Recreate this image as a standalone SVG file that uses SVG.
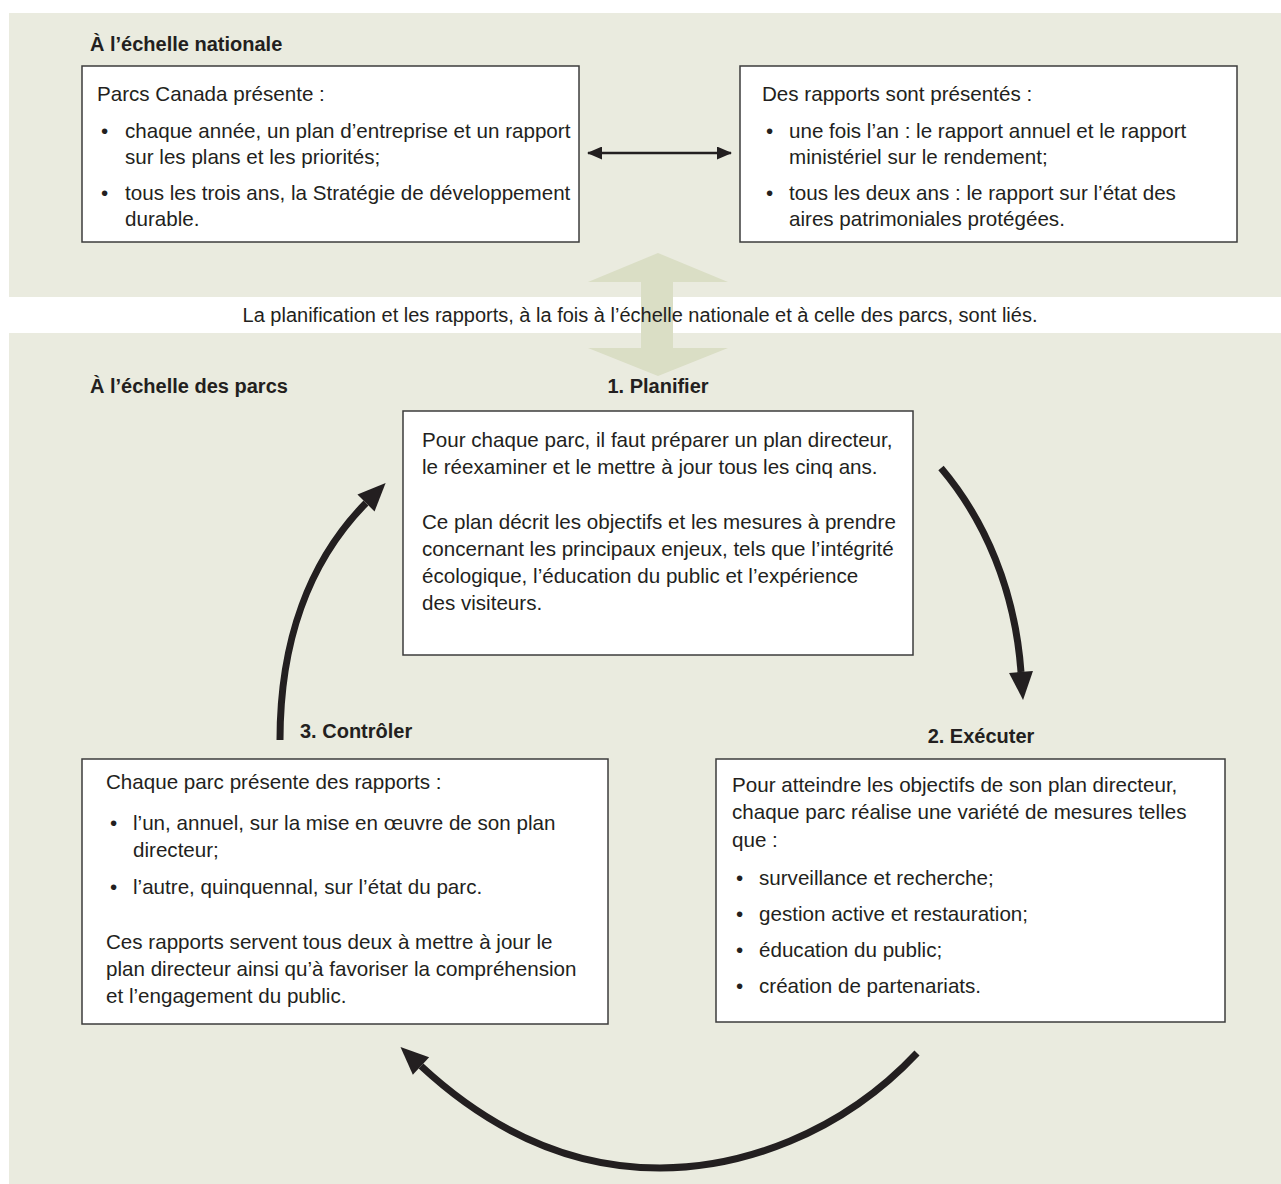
<svg xmlns="http://www.w3.org/2000/svg" width="1281" height="1184" viewBox="0 0 1281 1184">
<style>
text{font-family:"Liberation Sans",Arial,sans-serif;font-size:20px;fill:#231f20}
.t{font-size:20.6px}
.b{font-weight:bold}
.box{fill:#fff;stroke:#3c3c3c;stroke-width:1.5}
.panel{fill:#eaebdf}
.thick{fill:none;stroke:#231f20;stroke-width:7}
</style>
<defs>
<marker id="hd" markerUnits="userSpaceOnUse" markerWidth="28" markerHeight="24" refX="0" refY="12" orient="auto" overflow="visible">
<path d="M0,0 L28,12 L0,24 Z" fill="#231f20"/>
</marker>
<marker id="sm" markerUnits="userSpaceOnUse" markerWidth="15" markerHeight="13" refX="14" refY="6.5" orient="auto-start-reverse">
<path d="M0,0 L15,6.5 L0,13 Z" fill="#231f20"/>
</marker>
</defs>
<rect width="1281" height="1184" fill="#fff"/>
<rect class="panel" x="9" y="13" width="1272" height="284"/>
<rect class="panel" x="9" y="333" width="1272" height="851"/>
<polygon points="658,253 728,282 673,282 673,348 728,348 658,376 588,348 641,348 641,282 588,282" fill="#dadec5"/>
<text x="640" y="322" text-anchor="middle">La planification et les rapports, à la fois à l’échelle nationale et à celle des parcs, sont liés.</text>
<text class="b" x="90" y="51">À l’échelle nationale</text>
<text class="b" x="90" y="393">À l’échelle des parcs</text>

<g id="connectors">
<path d="M588,153 L731,153" stroke="#231f20" stroke-width="2.5" marker-start="url(#sm)" marker-end="url(#sm)"/>
<path class="thick" d="M280,740 C280,640 310,560 366,503" marker-end="url(#hd)"/>
<path class="thick" d="M941,468 C985,520 1015,590 1021,672" marker-end="url(#hd)"/>
<path class="thick" d="M917,1053 C840,1135 740,1168 660,1168 C570,1168 490,1130 421,1066" marker-end="url(#hd)"/>
</g>

<g id="national-plan" class="t">
<rect class="box" x="82" y="66" width="497" height="176"/>
<text class="t" x="97" y="101">Parcs Canada présente :</text>
<text class="t" x="101" y="138">•</text>
<text class="t" x="125" y="138">chaque année, un plan d’entreprise et un rapport</text>
<text class="t" x="125" y="164">sur les plans et les priorités;</text>
<text class="t" x="101" y="200">•</text>
<text class="t" x="125" y="200">tous les trois ans, la Stratégie de développement</text>
<text class="t" x="125" y="226">durable.</text>
</g>

<g id="national-reports">
<rect class="box" x="740" y="66" width="497" height="176"/>
<text class="t" x="762" y="101">Des rapports sont présentés :</text>
<text class="t" x="766" y="138">•</text>
<text class="t" x="789" y="138">une fois l’an : le rapport annuel et le rapport</text>
<text class="t" x="789" y="164">ministériel sur le rendement;</text>
<text class="t" x="766" y="200">•</text>
<text class="t" x="789" y="200">tous les deux ans : le rapport sur l’état des</text>
<text class="t" x="789" y="226">aires patrimoniales protégées.</text>
</g>

<g id="planifier">
<text class="b" x="658" y="393" text-anchor="middle">1. Planifier</text>
<rect class="box" x="403" y="411" width="510" height="244"/>
<text class="t" x="422" y="447">Pour chaque parc, il faut préparer un plan directeur,</text>
<text class="t" x="422" y="474">le réexaminer et le mettre à jour tous les cinq ans.</text>
<text class="t" x="422" y="529">Ce plan décrit les objectifs et les mesures à prendre</text>
<text class="t" x="422" y="556">concernant les principaux enjeux, tels que l’intégrité</text>
<text class="t" x="422" y="583">écologique, l’éducation du public et l’expérience</text>
<text class="t" x="422" y="610">des visiteurs.</text>
</g>

<g id="executer">
<text class="b" x="981" y="743" text-anchor="middle">2. Exécuter</text>
<rect class="box" x="716" y="759" width="509" height="263"/>
<text class="t" x="732" y="792">Pour atteindre les objectifs de son plan directeur,</text>
<text class="t" x="732" y="819">chaque parc réalise une variété de mesures telles</text>
<text class="t" x="732" y="847">que :</text>
<text class="t" x="736" y="885">•</text>
<text class="t" x="759" y="885">surveillance et recherche;</text>
<text class="t" x="736" y="921">•</text>
<text class="t" x="759" y="921">gestion active et restauration;</text>
<text class="t" x="736" y="957">•</text>
<text class="t" x="759" y="957">éducation du public;</text>
<text class="t" x="736" y="993">•</text>
<text class="t" x="759" y="993">création de partenariats.</text>
</g>

<g id="controler">
<text class="b" x="300" y="738">3. Contrôler</text>
<rect class="box" x="82" y="759" width="526" height="265"/>
<text class="t" x="106" y="789">Chaque parc présente des rapports :</text>
<text class="t" x="110" y="830">•</text>
<text class="t" x="133" y="830">l’un, annuel, sur la mise en œuvre de son plan</text>
<text class="t" x="133" y="857">directeur;</text>
<text class="t" x="110" y="894">•</text>
<text class="t" x="133" y="894">l’autre, quinquennal, sur l’état du parc.</text>
<text class="t" x="106" y="949">Ces rapports servent tous deux à mettre à jour le</text>
<text class="t" x="106" y="976">plan directeur ainsi qu’à favoriser la compréhension</text>
<text class="t" x="106" y="1003">et l’engagement du public.</text>
</g>
</svg>
